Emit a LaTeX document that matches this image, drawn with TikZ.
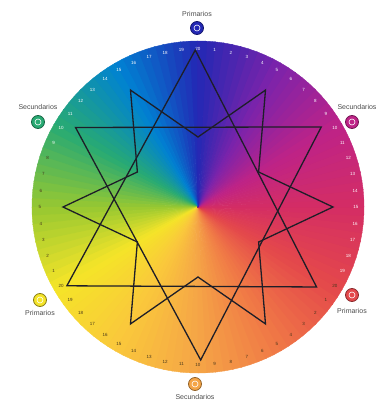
\documentclass[tikz,border=0pt]{standalone}
\usepackage{fontspec}
\setsansfont{Liberation Sans}
\usetikzlibrary{positioning}
% hue stops, every 30 degrees counter-clockwise from the top
\definecolor{wc0}{RGB}{35,40,180}
\definecolor{wc1}{RGB}{0,130,210}
\definecolor{wc2}{RGB}{40,170,115}
\definecolor{wc3}{RGB}{150,200,50}
\definecolor{wc4}{RGB}{245,228,40}
\definecolor{wc5}{RGB}{250,200,60}
\definecolor{wc6}{RGB}{245,165,70}
\definecolor{wc7}{RGB}{240,120,70}
\definecolor{wc8}{RGB}{228,72,75}
\definecolor{wc9}{RGB}{212,45,100}
\definecolor{wc10}{RGB}{190,35,135}
\definecolor{wc11}{RGB}{125,35,170}
\definecolor{wc12}{RGB}{35,40,180}
\definecolor{numdark}{RGB}{70,55,25}
\definecolor{starink}{RGB}{30,30,40}

\begin{document}
\begin{tikzpicture}[
        x=1pt, y=1pt,
        starline/.style={draw=starink, line width=1.3pt, line join=miter},
        num/.style={font=\sffamily\fontsize{4.5}{5}\selectfont, inner sep=0pt},
        tag/.style={font=\sffamily\fontsize{7}{8}\selectfont, text=black!70, inner sep=0pt},
        icon/.style={circle, minimum size=13pt, inner sep=0pt, line width=0.8pt}
    ]
        \useasboundingbox (-198,-198) rectangle (178,207);

        % Colour wheel
        \foreach \i in {0,...,11}{
            \pgfmathtruncatemacro{\k}{\i+1}
            \foreach \j in {0,...,9}{
                \pgfmathsetmacro{\a}{90+30*\i+3*\j}
                \pgfmathtruncatemacro{\p}{95-10*\j}
                \colorlet{wedge}{wc\i!\p!wc\k}
                \filldraw[wedge, line width=0.4pt] (0,0) -- (\a:166pt) arc[start angle=\a, end angle=\a+3.3, radius=166pt] -- cycle;
            }
        }

        % Numbers round the rim
        \foreach \k in {0,...,59}{
            \pgfmathtruncatemacro{\m}{mod(\k,20)}
            \ifnum\m=0 \def\n{20}\else\let\n\m\fi
            \pgfmathtruncatemacro{\w}{or(\k<20,\k>48)}
            \ifnum\w=1 \def\tc{white}\else\def\tc{numdark}\fi
            \node[num, text=\tc] (n\k) at ({90-6*\k}:158pt) {\n};
        }

        % Star lines
        \draw[starline] (91:157pt) -- (211:153pt) -- (326:143pt) -- cycle;
        \draw[starline] (147:146pt) -- (33:147pt) -- (271:153pt) -- cycle;
        \draw[starline] (0:135pt) \foreach \t in {30,90,...,270}{ -- (\t:70pt) -- (\t+30:135pt)} -- (330:70pt) -- cycle;

        % Icons
        \node[icon, fill=wc0, draw=wc0!60!black] (blue) at (-1,179) {};
        \node[icon, fill=wc2, draw=wc2!60!black] (green) at (-160,85) {};
        \node[icon, fill=wc10, draw=wc10!60!black] (violet) at (154,85) {};
        \node[icon, fill=wc4, draw=wc4!55!black] (yellow) at (-158,-93) {};
        \node[icon, fill=wc8, draw=wc8!60!black] (red) at (154,-88) {};
        \node[icon, fill=wc6, draw=wc6!60!black] (orange) at (-3,-177) {};
        \foreach \c in {blue,green,violet,yellow,red,orange}
            \draw[white!70, line width=0.6pt] (\c.center) circle[radius=3pt];

        % Labels
        \node[tag, above=4pt of blue] (tblue) {Primarios};
        \node[tag, above=5pt of green] (tgreen) {Secundarios};
        \node[tag, above=5pt of violet, xshift=5pt] (tviolet) {Secundarios};
        \node[tag, below=3pt of yellow] (tyellow) {Primarios};
        \node[tag, below=6pt of red] (tred) {Primarios};
        \node[tag, below=3pt of orange] (torange) {Secundarios};
    \end{tikzpicture}
\end{document}
